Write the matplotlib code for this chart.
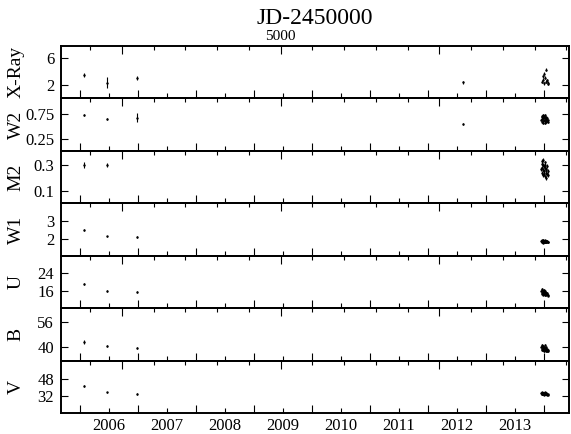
import numpy as np
import matplotlib.pyplot as plt
import matplotlib as mpl
from matplotlib.ticker import MultipleLocator, FixedLocator, FixedFormatter, NullFormatter

mpl.rcParams['font.family'] = ['Liberation Serif', 'DejaVu Serif']
mpl.rcParams['xtick.direction'] = 'in'
mpl.rcParams['ytick.direction'] = 'in'
mpl.rcParams['axes.linewidth'] = 1.2

# epochs, JD-2450000
jd_early = [3763, 3908, 4093]
jd_2012 = [6148]
jd_2014 = [6641, 6643, 6645, 6647, 6648, 6650, 6652, 6653, 6655, 6657, 6658, 6660,
           6662, 6663, 6665, 6667, 6668, 6670, 6672, 6674, 6676, 6678, 6681, 6684]
xray_jd_2014 = [6645, 6650, 6654, 6658, 6660, 6665, 6669, 6671, 6675, 6681, 6685]

# X-Ray
xray_early = [3.5, 2.35, 3.0]
xray_early_err = [0.3, 0.8, 0.3]
xray_2012 = [2.4]
xray_2014 = [2.5, 2.8, 3.3, 2.25, 3.7, 3.1, 4.3, 2.5, 2.7, 2.35, 2.15]

# UVOT bands
w2_early = [0.72, 0.65, 0.67]
w2_early_err = [0.02, 0.02, 0.09]
w2_2012 = [0.54]
w2_2014 = [0.62, 0.68, 0.58, 0.71, 0.65, 0.60, 0.73, 0.66, 0.57, 0.69, 0.63, 0.70,
           0.61, 0.67, 0.56, 0.72, 0.64, 0.59, 0.68, 0.62, 0.66, 0.60, 0.63, 0.58]

m2_early = [0.30, 0.30]
m2_early_err = [0.024, 0.017]
m2_2014 = [0.27, 0.31, 0.24, 0.33, 0.28, 0.22, 0.30, 0.26, 0.34, 0.23, 0.29, 0.25,
           0.32, 0.21, 0.28, 0.30, 0.24, 0.27, 0.20, 0.26, 0.29, 0.23, 0.25, 0.22]

w1_early = [2.5, 2.15, 2.1]
w1_early_err = [0.05, 0.04, 0.05]
w1_2014 = [1.90, 1.85, 1.93, 1.82, 1.88, 1.95, 1.80, 1.87, 1.91, 1.84, 1.89, 1.86,
           1.92, 1.83, 1.88, 1.85, 1.90, 1.81, 1.87, 1.84, 1.89, 1.86, 1.82, 1.85]

u_early = [19.0, 16.0, 15.4]
u_early_err = [0.4, 0.3, 0.4]
u_2014 = [15.8, 16.5, 15.2, 14.8, 16.9, 15.5, 14.3, 16.1, 15.0, 15.7, 16.4, 14.6,
          15.3, 16.0, 14.1, 15.6, 14.9, 15.2, 14.4, 14.7, 15.1, 14.5, 13.9, 14.2]

b_early = [43.3, 41.0, 39.6]
b_early_err = [1.0, 0.6, 0.8]
b_2014 = [40.5, 41.8, 39.2, 38.6, 41.0, 40.1, 39.7, 38.2, 40.8, 39.5, 37.9, 40.3,
          39.0, 38.5, 41.3, 39.8, 38.9, 37.6, 40.0, 38.4, 39.3, 38.0, 38.7, 37.8]

v_early = [41.4, 35.1, 33.9]
v_early_err = [0.8, 0.6, 0.8]
v_2014 = [34.6, 33.8, 35.2, 34.1, 33.4, 35.0, 34.4, 33.6, 34.8, 33.9, 34.2, 33.1,
          34.5, 33.7, 35.4, 34.0, 33.3, 34.3, 33.5, 34.7, 33.2, 34.1, 32.9, 33.6]

band_names = ['X-Ray', 'W2', 'M2', 'W1', 'U', 'B', 'V']
band_yticks = [[2, 6], [0.25, 0.75], [0.1, 0.3], [2, 3], [16, 24], [40, 56], [32, 48]]
band_ylims = [(0.0, 7.8), (0.0, 1.06), (0.0, 0.41), (1.07, 3.98), (8.3, 31.6), (31.8, 64.2), (15.7, 64.9)]

years = list(range(2006, 2014))

panels = [
    (jd_early, xray_early, xray_early_err, jd_2012, xray_2012, xray_jd_2014, xray_2014, 0.2),
    (jd_early, w2_early, w2_early_err, jd_2012, w2_2012, jd_2014, w2_2014, 0.02),
    (jd_early[:2], m2_early, m2_early_err, [], [], jd_2014, m2_2014, 0.015),
    (jd_early, w1_early, w1_early_err, [], [], jd_2014, w1_2014, 0.03),
    (jd_early, u_early, u_early_err, [], [], jd_2014, u_2014, 0.3),
    (jd_early, b_early, b_early_err, [], [], jd_2014, b_2014, 0.6),
    (jd_early, v_early, v_early_err, [], [], jd_2014, v_2014, 0.5),
]


def year_to_jd(y):
    return 1544.5 + (y - 2000) * 365.25


fig, axes = plt.subplots(7, 1, figsize=(5.71, 4.34), dpi=100, sharex=True)
fig.subplots_adjust(left=0.107, right=0.9965, top=0.894, bottom=0.048, hspace=0)

year_starts = [year_to_jd(y) for y in years + [2014]]
year_mids = [year_to_jd(y) + 182.6 for y in years]
xlim = (3617, 6816)

for i, ax in enumerate(axes):
    jd_e, val_e, err_e, jd_m, val_m, jd_c, val_c, err_c = panels[i]
    kw = dict(fmt='.', color='black', markersize=1.5, elinewidth=0.8, capsize=0)
    ax.errorbar(jd_e, val_e, yerr=err_e, **kw)
    if jd_m:
        ax.errorbar(jd_m, val_m, yerr=[err_c], **kw)
    ax.errorbar(jd_c, val_c, yerr=err_c, **kw)

    ax.set_xlim(*xlim)
    ax.set_ylim(*band_ylims[i])
    ax.set_yticks(band_yticks[i])
    ax.set_ylabel(band_names[i], fontsize=14)
    ax.yaxis.set_label_coords(-0.072, 0.5)
    ax.tick_params(axis='y', which='both', left=True, right=True, labelsize=12,
                   length=5, width=0.8, pad=5)

    # bottom: calendar years
    ax.xaxis.set_major_locator(FixedLocator(year_starts))
    ax.xaxis.set_major_formatter(NullFormatter())
    ax.xaxis.set_minor_locator(FixedLocator(year_mids))
    ax.xaxis.set_minor_formatter(FixedFormatter([str(y) for y in years]))
    ax.tick_params(axis='x', which='major', length=6, width=0.8, top=False)
    ax.tick_params(axis='x', which='minor', length=3.5, width=0.8, top=False,
                   labelsize=12, labelbottom=(i == 6))

    # top: JD-2450000
    top = ax.twiny()
    top.set_xlim(*xlim)
    top.xaxis.set_major_locator(FixedLocator([4000, 5000, 6000]))
    top.xaxis.set_minor_locator(MultipleLocator(200))
    top.tick_params(axis='x', which='major', length=6, width=0.8, direction='in',
                    labelsize=11, pad=2, bottom=False, top=True)
    top.tick_params(axis='x', which='minor', length=3, width=0.8, direction='in',
                    bottom=False, top=True)
    if i == 0:
        top.xaxis.set_major_formatter(FixedFormatter(['', '5000', '']))
    else:
        top.xaxis.set_major_formatter(NullFormatter())

fig.text(0.552, 0.958, 'JD-2450000', ha='center', va='center', fontsize=17)

plt.savefig('out.png', dpi=100)
